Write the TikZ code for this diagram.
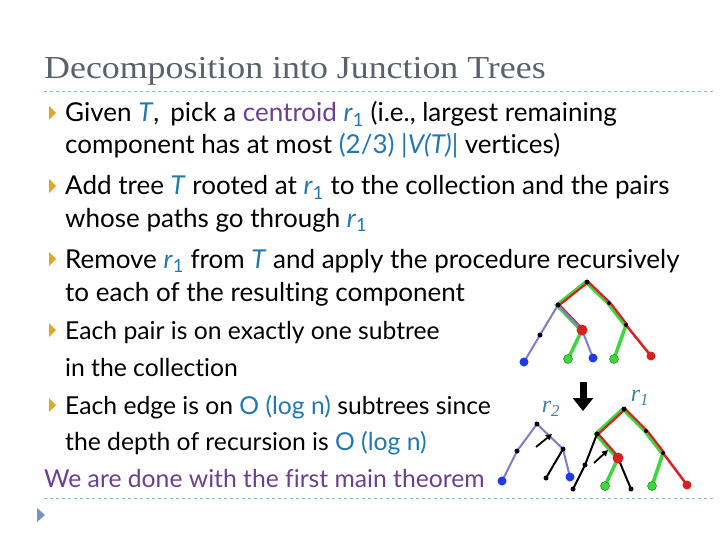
\documentclass[tikz,border=0pt]{standalone}
\usepackage{fontspec}
\setmainfont{Lato}[Ligatures=NoCommon]
\newfontfamily\ttlfont{Liberation Serif}
\usetikzlibrary{arrows.meta}
\definecolor{tblue}{HTML}{1F78B4}
\definecolor{tpurp}{HTML}{6B3F92}
\definecolor{ttitle}{HTML}{5B616B}
\definecolor{dline}{HTML}{8CB9C2}
\definecolor{bul}{HTML}{E5A524}
\definecolor{epur}{HTML}{7C7CD2}
\definecolor{egrn}{HTML}{3DD63D}
\definecolor{ered}{HTML}{D92020}
\definecolor{nblue}{HTML}{1E3CE6}
\definecolor{lbl}{HTML}{3A7FA8}
\tikzset{
 txt/.style={anchor=base west,inner sep=0pt,font=\fontsize{26}{28}\selectfont},
 txts/.style={anchor=base west,inner sep=0pt,font=\fontsize{24.7}{27}\selectfont},
 bullet/.style={fill=bul,draw=none},
 gE/.style={egrn,line width=3.2pt,transform canvas={xshift=-1.4pt}},
 rE/.style={ered,line width=2.2pt,transform canvas={xshift=1.4pt}},
 pE/.style={epur,line width=2pt},
 kE/.style={black,line width=2pt},
 gS/.style={egrn,line width=3.5pt},
 rS/.style={ered,line width=2.5pt},
 dot/.style={circle,fill=black,inner sep=0pt,minimum size=5pt},
 bdot/.style={circle,fill=nblue,inner sep=0pt,minimum size=9pt},
 gdot/.style={circle,fill=egrn,draw=green!50!black,line width=0.4pt,inner sep=0pt,minimum size=9pt},
 rdot/.style={circle,fill=ered,inner sep=0pt,minimum size=9pt},
}
\begin{document}
\begin{tikzpicture}[x=1pt,y=-1pt]
\useasboundingbox (0,0) rectangle (720,540);
\node[anchor=base west,inner sep=0pt,text=ttitle,xscale=1.12,font=\ttlfont\fontsize{32}{35}\selectfont] (title) at (44,79) {Decomposition into Junction Trees};
\draw[dline,dashed,line width=0.7pt] (44,91) -- (715,91);
\draw[dline,dashed,line width=0.7pt] (44,498) -- (715,498);
\fill[fill=dline!80!blue] (37,508) -- (45,515) -- (37,522) -- cycle;
\foreach \y in {113,186,259,330,405}{\fill[bullet] (49,\y-7) -- (56,\y) -- (49,\y+7) -- cycle;}
\node[txt] (l1) at (65,122) {Given \textcolor{tblue}{\textit{T}},\, pick a \textcolor{tpurp}{centroid} \textcolor{tblue}{\textit{r}\textsubscript{1}} (i.e., largest remaining};
\node[txt] (l2) at (65,154) {component has at most \textcolor{tblue}{(2/3) |\textit{V(T)}|} vertices)};
\node[txt] (l3) at (65,195) {Add tree \textcolor{tblue}{\textit{T}} rooted at \textcolor{tblue}{\textit{r}\textsubscript{1}} to the collection and the pairs};
\node[txt] (l4) at (65,227) {whose paths go through \textcolor{tblue}{\textit{r}\textsubscript{1}}};
\node[txt] (l5) at (65,268) {Remove \textcolor{tblue}{\textit{r}\textsubscript{1}} from \textcolor{tblue}{\textit{T}} and apply the procedure recursively};
\node[txt] (l6) at (65,301) {to each of the resulting component};
\node[txts] (l7) at (65,339) {Each pair is on exactly one subtree};
\node[txts] (l8) at (65,376) {in the collection};
\node[txts] (l9) at (65,414) {Each edge is on \textcolor{tblue}{O (log n)} subtrees since};
\node[txts] (l10) at (65,450) {the depth of recursion is \textcolor{tblue}{O (log n)}};
\node[txts,text=tpurp] (l11) at (44,487) {We are done with the first main theorem};
% top tree
\coordinate (R) at (587,282); \coordinate (A) at (558,305); \coordinate (RN) at (582,330);
\coordinate (LM) at (540,335); \coordinate (BL) at (524,362); \coordinate (GL) at (568,359);
\coordinate (BL2) at (593,358); \coordinate (M1) at (609,303); \coordinate (M2) at (626,325);
\coordinate (GL2) at (614,359); \coordinate (RL) at (651,356);
\draw[gE] (R)--(A)--(RN); \draw[gE] (R)--(M1)--(M2);
\draw[rE] (R)--(A)--(RN); \draw[rE] (R)--(M1)--(M2);
\draw[pE] (A)--(LM)--(BL); \draw[pE] (A)--(RN)--(BL2);
\draw[gS] (RN)--(GL); \draw[gS] (M2)--(GL2); \draw[rS] (M2)--(RL);
\node[dot] (nR) at (R) {}; \node[dot] (nA) at (A) {}; \node[dot] (nLM) at (LM) {};
\node[dot,minimum size=4pt] (nM1) at (M1) {}; \node[dot,minimum size=4pt] (nM2) at (M2) {};
\node[rdot,minimum size=11pt] (nRN) at (RN) {};
\node[bdot] (nBL) at (BL) {}; \node[gdot] (nGL) at (GL) {}; \node[bdot] (nBL2) at (BL2) {};
\node[gdot] (nGL2) at (GL2) {}; \node[rdot] (nRL) at (RL) {};
% arrow
\coordinate (a1) at (583,382); \coordinate (a2) at (583,411);
\draw[line width=7pt,-{Triangle[length=13pt,width=20pt]}] (a1)--(a2);
% bottom left tree
\coordinate (T2) at (537,424); \coordinate (K1) at (517,451); \coordinate (K2) at (502,481);
\coordinate (K3) at (563,449); \coordinate (K4) at (570,477); \coordinate (K5) at (546,478);
\draw[pE] (K2)--(K1)--(T2)--(K3)--(K4);
\draw[kE] (K3)--(K5);
\node[dot] (nT2) at (T2) {}; \node[dot] (nK1) at (K1) {}; \node[dot] (nK3) at (K3) {};
\node[bdot] (nK2) at (K2) {}; \node[bdot] (nK4) at (K4) {}; \node[dot] (nK5) at (K5) {};
\coordinate (s1) at (536,447); \coordinate (s2) at (552,434);
\draw[line width=1.8pt,-{Triangle[length=6pt,width=6pt]}] (s1)--(s2);
% bottom right tree
\coordinate (Q) at (624,409); \coordinate (QA) at (597,434); \coordinate (QR) at (618,458);
\coordinate (QM1) at (646,431); \coordinate (QM2) at (663,453);
\coordinate (QG1) at (605,486); \coordinate (QK) at (631,489); \coordinate (QG2) at (652,486);
\coordinate (QRL) at (687,485); \coordinate (QB) at (585,465); \coordinate (QBL) at (573,489);
\draw[gE] (Q)--(QA)--(QR); \draw[gE] (Q)--(QM1)--(QM2);
\draw[rE] (Q)--(QA)--(QR); \draw[rE] (Q)--(QM1)--(QM2);
\draw[gS] (QR)--(QG1); \draw[gS] (QM2)--(QG2); \draw[rS] (QM2)--(QRL);
\draw[kE] (QR)--(QK); \draw[kE] (QA)--(QB)--(QBL);
\node[dot] (nQ) at (Q) {}; \node[dot] (nQA) at (QA) {}; \node[dot,minimum size=4pt] (nQM1) at (QM1) {};
\node[dot,minimum size=4pt] (nQM2) at (QM2) {}; \node[dot] (nQB) at (QB) {};
\node[rdot,minimum size=11pt] (nQR) at (QR) {};
\node[gdot] (nQG1) at (QG1) {}; \node[dot] (nQK) at (QK) {}; \node[gdot] (nQG2) at (QG2) {};
\node[rdot] (nQRL) at (QRL) {}; \node[dot] (nQBL) at (QBL) {};
\coordinate (s3) at (594,463); \coordinate (s4) at (608,450);
\draw[line width=1.8pt,-{Triangle[length=6pt,width=6pt]}] (s3)--(s4);
% labels
\node[text=lbl,font=\ttlfont\itshape\fontsize{24}{26}\selectfont] (lr1) at (640,398) {r\textsubscript{\itshape 1}};
\node[text=lbl,font=\ttlfont\itshape\fontsize{24}{26}\selectfont] (lr2) at (551,409) {r\textsubscript{\itshape 2}};
\end{tikzpicture}
\end{document}
